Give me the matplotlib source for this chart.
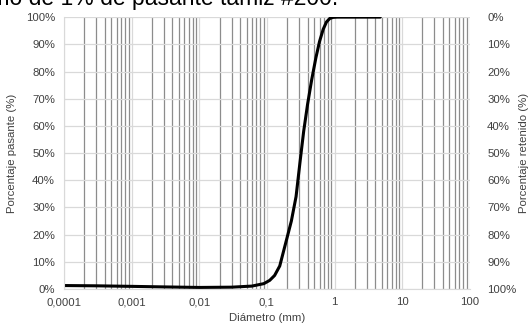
import matplotlib.pyplot as plt
from matplotlib.ticker import FixedLocator, PercentFormatter, NullFormatter

plt.rcParams['font.family'] = ['Liberation Sans', 'DejaVu Sans']

# grain size curve
diam_mm = [0.0001, 0.0003, 0.001, 0.003, 0.01, 0.03, 0.06, 0.09, 0.11, 0.13,
           0.155, 0.19, 0.23, 0.27, 0.31, 0.35, 0.40, 0.46, 0.53, 0.60,
           0.68, 0.76, 0.85, 0.95, 1.1, 4.75]
pasante = [1.3, 1.2, 1.0, 0.8, 0.6, 0.7, 1.1, 2.0, 3.2, 5.0,
           8.5, 17, 25, 34, 47, 58, 68, 77, 85, 91,
           95.5, 98.2, 99.5, 99.9, 100, 100]

x_ticks = [0.0001, 0.001, 0.01, 0.1, 1, 10, 100]
x_labels = ['0,0001', '0,001', '0,01', '0,1', '1', '10', '100']
y_ticks = [0, 10, 20, 30, 40, 50, 60, 70, 80, 90, 100]

fig = plt.figure(figsize=(5.29, 3.23), dpi=100)
ax = fig.add_axes([0.121, 0.105, 0.767, 0.842])

ax.set_xscale('log')
ax.set_xlim(0.0001, 100)
ax.set_ylim(0, 100)

# minor grid darker than the decade lines
minor = [m * 10.0 ** e for e in range(-4, 2) for m in range(2, 10)]
ax.xaxis.set_minor_locator(FixedLocator(minor))
ax.xaxis.set_minor_formatter(NullFormatter())
ax.set_xticks(x_ticks)
ax.set_xticklabels(x_labels)
ax.set_yticks(y_ticks)
ax.yaxis.set_major_formatter(PercentFormatter(decimals=0))

ax.grid(which='minor', axis='x', color='#8c8c8c', linewidth=0.9)
ax.grid(which='major', axis='x', color='#d9d9d9', linewidth=0.9)
ax.grid(which='major', axis='y', color='#d9d9d9', linewidth=0.9)
ax.set_axisbelow(True)

ax.plot(diam_mm, pasante, color='black', linewidth=2.2, solid_capstyle='round')

for s in ['top', 'right']:
    ax.spines[s].set_visible(False)
for s in ['left', 'bottom']:
    ax.spines[s].set_color('#d9d9d9')

ax.tick_params(which='both', length=0, labelsize=8.2, colors='#404040')
ax.tick_params(axis='x', pad=6)
ax.tick_params(axis='y', pad=6.5)
ax.set_xlabel('Diámetro (mm)', fontsize=8.2, color='#404040', labelpad=4)
ax.set_ylabel('Porcentaje pasante (%)', fontsize=8.2, color='#404040', labelpad=6)

# secondary axis: retained percentage
ax2 = ax.twinx()
ax2.set_ylim(100, 0)
ax2.set_yticks(y_ticks)
ax2.yaxis.set_major_formatter(PercentFormatter(decimals=0))
ax2.tick_params(length=0, labelsize=8.2, colors='#404040', pad=12.5)
for s in ax2.spines.values():
    s.set_visible(False)
ax2.set_ylabel('Porcentaje retenido (%)', fontsize=8.2, color='#404040', labelpad=2)

# caption text cut by the top of the image
fig.text(0.639, 0.984, 'con un contenido máximo de 1% de pasante tamiz #200.',
         ha='right', va='baseline', fontsize=16.5, color='black')

fig.savefig('out.png', dpi=100)
